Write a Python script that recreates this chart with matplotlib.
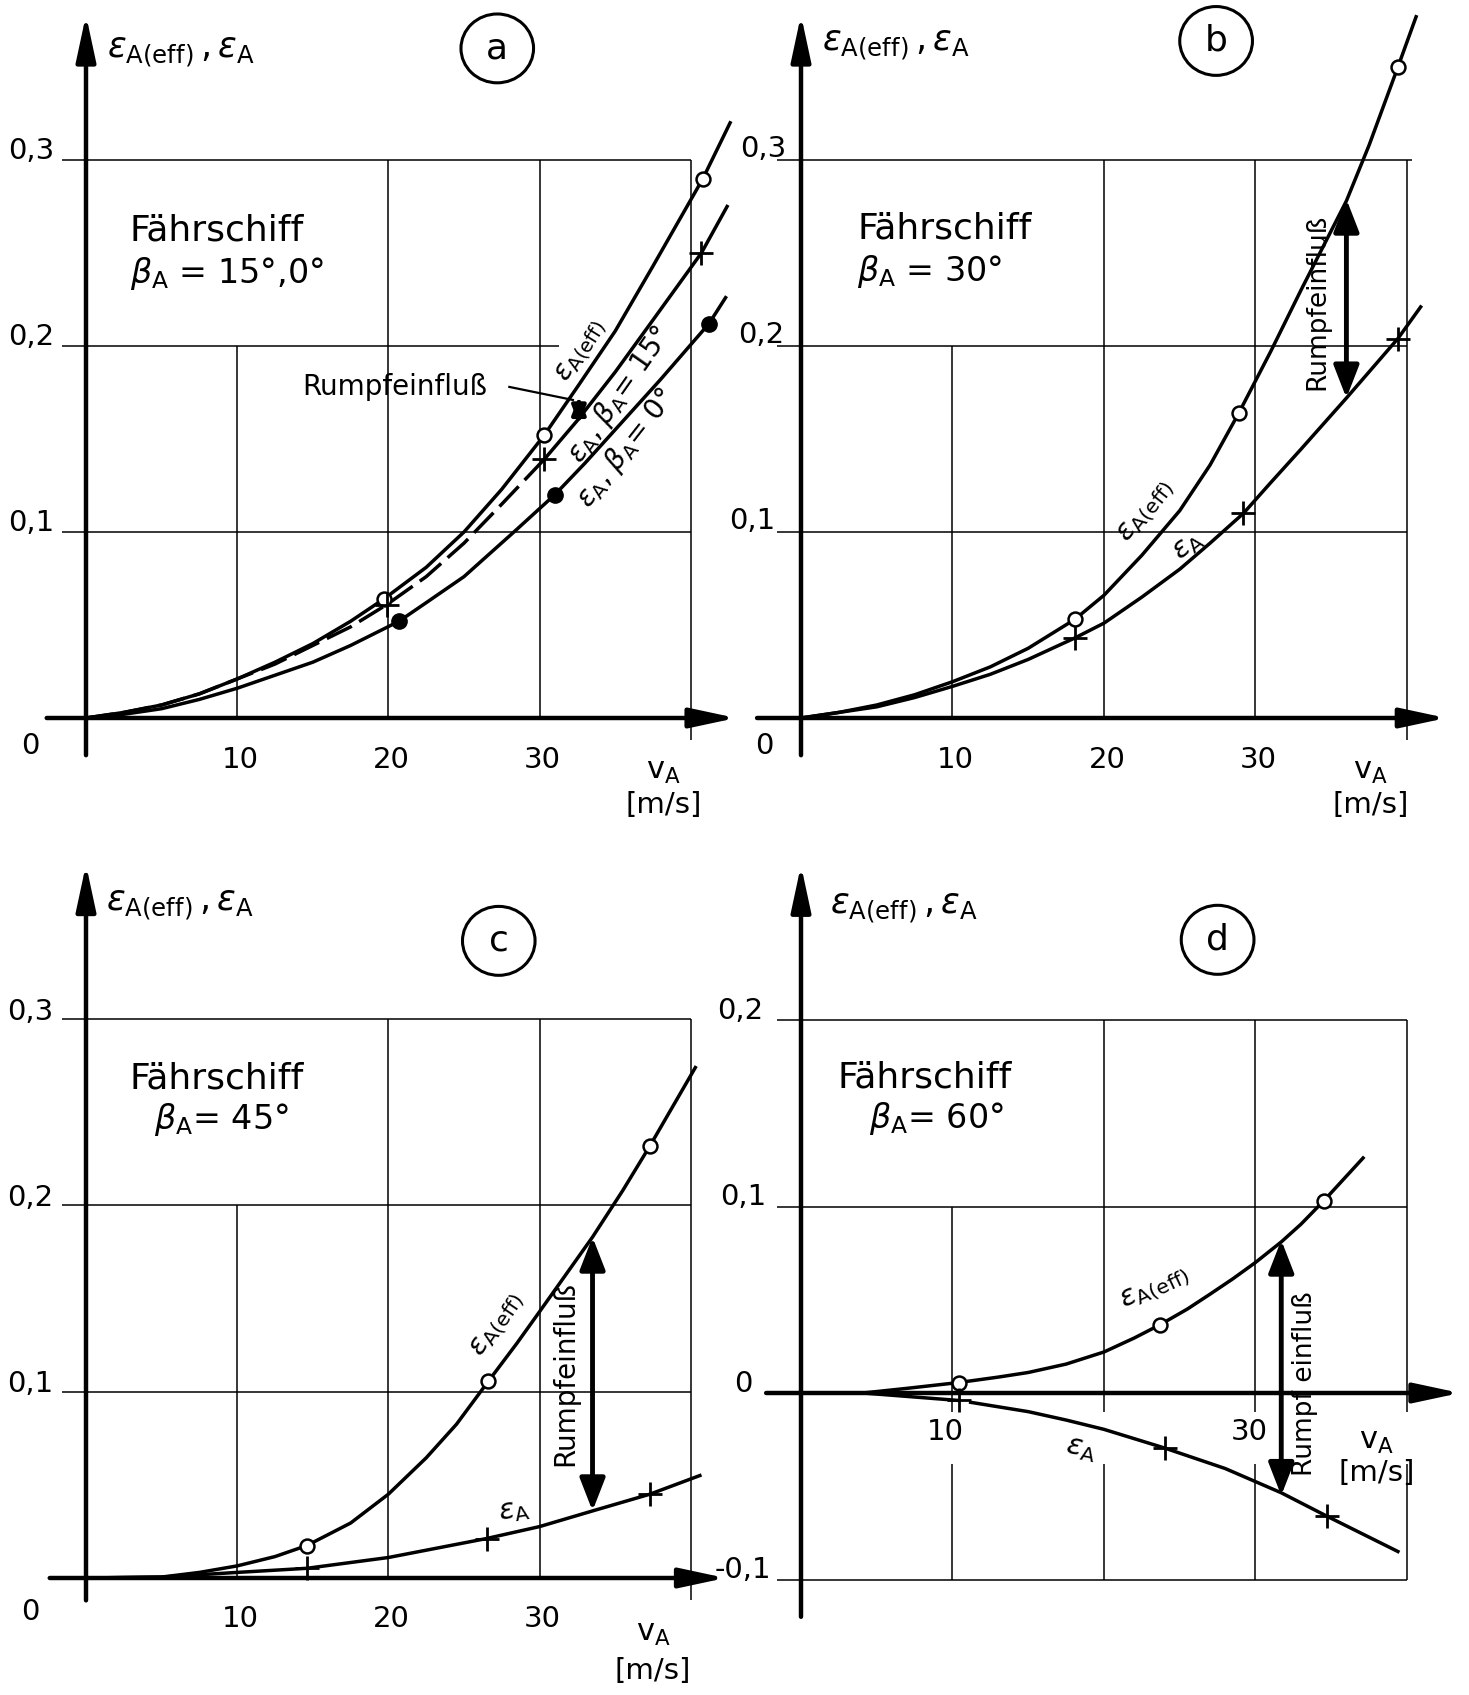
import matplotlib
matplotlib.use("Agg")
import matplotlib.pyplot as plt
from matplotlib.patches import Ellipse

plt.rcParams["font.family"] = ["DejaVu Sans"]
plt.rcParams["mathtext.fontset"] = "dejavusans"

# ---------------- data ----------------
# panel a : beta_A = 15 deg / 0 deg
a_eff_v = [0, 2.5, 5, 7.5, 10, 12.5, 15, 17.5, 19.7, 22.5, 25, 27.5, 30.3, 32.5, 35, 37.5, 40.8, 42.6]
a_eff = [0, 0.003, 0.007, 0.013, 0.021, 0.030, 0.040, 0.052, 0.064, 0.081, 0.100, 0.123,
         0.152, 0.178, 0.208, 0.243, 0.290, 0.320]
a15_v = [0, 2.5, 5, 7.5, 10, 12.5, 15, 17.5, 19.9, 22.5, 25, 27.5, 30.3, 32.5, 35, 37.5, 40.7, 42.4]
a15 = [0, 0.003, 0.007, 0.013, 0.021, 0.029, 0.039, 0.049, 0.061, 0.076, 0.094, 0.115,
       0.139, 0.160, 0.186, 0.214, 0.250, 0.275]
a0_v = [0, 2.5, 5, 7.5, 10, 12.5, 15, 17.5, 20.7, 22.5, 25, 28.3, 31.0, 33, 35, 38, 41.2, 42.3]
a0 = [0, 0.002, 0.005, 0.010, 0.016, 0.023, 0.030, 0.039, 0.052, 0.062, 0.076, 0.100,
      0.120, 0.137, 0.155, 0.182, 0.212, 0.226]
a_eff_mv, a_eff_m = [19.7, 30.3, 40.8], [0.064, 0.152, 0.290]
a15_mv, a15_m = [19.9, 30.3, 40.7], [0.061, 0.139, 0.250]
a0_mv, a0_m = [20.7, 31.0, 41.2], [0.052, 0.120, 0.212]

# panel b : beta_A = 30 deg
b_eff_v = [0, 2.5, 5, 7.5, 10, 12.5, 15, 18.07, 20, 22.5, 25, 27, 28.9, 31, 33, 36, 37.5, 39.4, 40.6]
b_eff = [0, 0.003, 0.007, 0.0125, 0.0195, 0.0275, 0.0375, 0.053, 0.066, 0.0875, 0.1115, 0.136,
         0.164, 0.197, 0.230, 0.278, 0.308, 0.350, 0.377]
b_a_v = [0, 2.5, 5, 7.5, 10, 12.5, 15, 18.07, 20, 22.5, 25, 27, 29.2, 31, 33, 36, 39.4, 40.9]
b_a = [0, 0.003, 0.006, 0.011, 0.017, 0.0235, 0.0315, 0.043, 0.051, 0.065, 0.080, 0.094,
       0.110, 0.1265, 0.1445, 0.172, 0.204, 0.221]
b_eff_mv, b_eff_m = [18.07, 28.9, 39.4], [0.053, 0.164, 0.350]
b_a_mv, b_a_m = [18.07, 29.2, 39.4], [0.043, 0.110, 0.204]

# panel c : beta_A = 45 deg
c_eff_v = [0, 5, 7.5, 10, 12.5, 14.6, 17.5, 20, 22.5, 24.5, 26.6, 28.5, 30, 33.5, 35.5, 37.3, 40.3]
c_eff = [0, 0.0005, 0.003, 0.0065, 0.0115, 0.0174, 0.0295, 0.045, 0.0645, 0.0825, 0.1055,
         0.126, 0.143, 0.183, 0.208, 0.232, 0.274]
c_a_v = [0, 5, 10, 14.6, 20, 26.5, 30, 33.5, 37.3, 40.6]
c_a = [0, 0.0005, 0.003, 0.0052, 0.011, 0.0212, 0.0276, 0.036, 0.045, 0.055]
c_eff_mv, c_eff_m = [14.6, 26.6, 37.3], [0.0174, 0.1055, 0.232]
c_a_mv, c_a_m = [14.6, 26.5, 37.3], [0.0052, 0.0212, 0.045]

# panel d : beta_A = 60 deg
d_eff_v = [4.1, 7, 10.4, 13, 15, 17.5, 20, 22, 23.7, 25.5, 27, 28.5, 30, 31.7, 33, 34.5, 37.1]
d_eff = [0, 0.0025, 0.0056, 0.0085, 0.011, 0.0155, 0.022, 0.0295, 0.0366, 0.045, 0.053,
         0.0612, 0.070, 0.081, 0.0905, 0.103, 0.126]
d_a_v = [4.1, 10.4, 11.2, 15, 17.5, 20, 22, 24.0, 26, 28, 31.7, 34.7, 39.4]
d_a = [0, -0.004, -0.005, -0.010, -0.0145, -0.0195, -0.0245, -0.0295, -0.035, -0.0405,
       -0.0535, -0.066, -0.085]
d_eff_mv, d_eff_m = [10.4, 23.7, 34.5], [0.0056, 0.0366, 0.103]
d_a_mv, d_a_m = [10.4, 24.0, 34.7], [-0.004, -0.0295, -0.066]

xticks = [10, 20, 30]
xlabels = ["10", "20", "30"]
ylabels_pos = ["0,1", "0,2", "0,3"]

# ---------------- layout ----------------
W, H = 1469, 1695
fig = plt.figure(figsize=(W / 100, H / 100), dpi=100)

LW_AX = 3.2
LW_GRID = 1.1
LW_CURVE = 2.5
FS = 21
FS_LAB = 21


def panel(x0, y0, sx, sy, xlim, ylim):
    left = (x0 + xlim[0] * sx) / W
    width = (xlim[1] - xlim[0]) * sx / W
    bottom = 1 - (y0 - ylim[0] * sy) / H
    height = (ylim[1] - ylim[0]) * sy / H
    ax = fig.add_axes([left, bottom, width, height])
    ax.set_xlim(xlim)
    ax.set_ylim(ylim)
    ax.axis("off")
    ax.patch.set_alpha(0)
    return ax


def arrows(ax, xmin, xmax, ymin, ymax):
    style = "-|>,head_length=1.4,head_width=0.3"
    ax.annotate("", xy=(xmax, 0), xytext=(xmin, 0),
                arrowprops=dict(arrowstyle=style, lw=LW_AX, color="k",
                                mutation_scale=20, shrinkA=0, shrinkB=0))
    ax.annotate("", xy=(0, ymax), xytext=(0, ymin),
                arrowprops=dict(arrowstyle=style, lw=LW_AX, color="k",
                                mutation_scale=20, shrinkA=0, shrinkB=0))


def vline(ax, x, y0, y1):
    ax.plot([x, x], [y0, y1], color="k", lw=LW_GRID, solid_capstyle="butt")


def hline(ax, y, x1=40):
    ax.plot([-1.6, x1], [y, y], color="k", lw=LW_GRID, solid_capstyle="butt")


def circled(ax, x, y, letter, w=4.8, h=0.037):
    ax.add_patch(Ellipse((x, y), w, h, fill=False, lw=2.2, ec="k"))
    ax.text(x, y, letter, ha="center", va="center", fontsize=26)


def ylabel(ax, x, y):
    ax.text(x, y, r"$\varepsilon_{\mathrm{A(eff)}}\,,\varepsilon_{\mathrm{A}}$",
            ha="left", va="center", fontsize=25)


def vunit(ax, x, y1, y2):
    ax.text(x, y1, r"$\mathrm{v}_{\mathrm{A}}$", ha="center", va="center", fontsize=FS + 1)
    ax.text(x, y2, "[m/s]", ha="center", va="center", fontsize=FS)


def double_arrow(ax, x, y0, y1, ms=22, lw=3.5):
    ax.annotate("", xy=(x, y1), xytext=(x, y0),
                arrowprops=dict(arrowstyle="<|-|>,head_length=0.9,head_width=0.35",
                                lw=lw, color="k", mutation_scale=ms,
                                shrinkA=0, shrinkB=0))


def curve_label(ax, x, y, s, rot, fs=FS_LAB):
    ax.text(x, y, s, rotation=rot, ha="center", va="center",
            rotation_mode="anchor", fontsize=fs)


curve = dict(color="k", lw=LW_CURVE, solid_joinstyle="round")
open_m = dict(ls="none", marker="o", ms=10, mfc="white", mec="k", mew=1.8)
plus_m = dict(ls="none", marker="+", ms=17, mec="k", mew=2.0)
dot_m = dict(ls="none", marker="o", ms=11, mfc="k", mec="k")
EFF = r"$\varepsilon_{\mathrm{A(eff)}}$"
EA = r"$\varepsilon_{\mathrm{A}}$"

# ---------------- panel a ----------------
ax = panel(86, 718, 15.12, 1860, (-5.5, 45.5), (-0.14, 0.39))
hline(ax, 0.1)
hline(ax, 0.2, 31.3)
hline(ax, 0.3)
vline(ax, 10, 0, 0.2)
vline(ax, 20, 0, 0.3)
vline(ax, 30, 0, 0.3)
vline(ax, 40, -0.012, 0.3)
arrows(ax, -2.6, 43.0, -0.02, 0.378)
ax.plot(a_eff_v, a_eff, **curve)
ax.plot(a15_v[:13], a15[:13], color="k", lw=LW_CURVE, ls=(0, (8, 2.5)))
ax.plot(a15_v[12:], a15[12:], **curve)
ax.plot(a0_v, a0, **curve)
ax.plot(a_eff_mv, a_eff_m, **open_m)
ax.plot(a15_mv, a15_m, **plus_m)
ax.plot(a0_mv, a0_m, **dot_m)
for yv, lab in zip([0.1, 0.2, 0.3], ylabels_pos):
    ax.text(-3.6, yv + 0.005, lab, ha="center", va="center", fontsize=FS)
ax.text(-3.7, -0.015, "0", ha="center", va="center", fontsize=FS)
for xv, lab in zip(xticks, xlabels):
    ax.text(xv + 0.2, -0.0225, lab, ha="center", va="center", fontsize=FS)
vunit(ax, 38.2, -0.029, -0.047)
ylabel(ax, 1.4, 0.358)
circled(ax, 27.2, 0.360, "a")
ax.text(2.9, 0.262, "Fährschiff", ha="left", va="center", fontsize=26)
ax.text(2.9, 0.239, r"$\beta_{\mathrm{A}}$ = 15°,0°", ha="left", va="center", fontsize=24)
ax.text(14.3, 0.178, "Rumpfeinfluß", ha="left", va="center", fontsize=20)
ax.plot([28.0, 32.2], [0.178, 0.171], color="k", lw=1.6)
double_arrow(ax, 32.6, 0.158, 0.173, ms=12, lw=3)
curve_label(ax, 32.8, 0.197, EFF, 58, 20)
curve_label(ax, 35.3, 0.174, EA + r", $\beta_{\mathrm{A}}$= 15°", 55, 20)
curve_label(ax, 35.7, 0.145, EA + r", $\beta_{\mathrm{A}}$= 0°", 52, 20)

# ---------------- panel b ----------------
ax = panel(801, 718, 15.15, 1860, (-5.5, 43.5), (-0.14, 0.39))
hline(ax, 0.1)
hline(ax, 0.2)
hline(ax, 0.3, 40.3)
vline(ax, 10, 0, 0.2)
vline(ax, 20, 0, 0.3)
vline(ax, 30, 0, 0.3)
vline(ax, 40, -0.012, 0.3)
arrows(ax, -2.9, 42.6, -0.02, 0.378)
ax.plot(b_eff_v, b_eff, **curve)
ax.plot(b_a_v, b_a, **curve)
ax.plot(b_eff_mv, b_eff_m, **open_m)
ax.plot(b_a_mv, b_a_m, **plus_m)
for yv, lab, xl in zip([0.1, 0.2, 0.3], ylabels_pos, [-3.2, -2.6, -2.5]):
    ax.text(xl, yv + 0.006, lab, ha="center", va="center", fontsize=FS)
ax.text(-2.4, -0.015, "0", ha="center", va="center", fontsize=FS)
for xv, lab in zip(xticks, xlabels):
    ax.text(xv + 0.2, -0.0225, lab, ha="center", va="center", fontsize=FS)
vunit(ax, 37.6, -0.029, -0.047)
ylabel(ax, 1.4, 0.362)
circled(ax, 27.4, 0.364, "b")
ax.text(3.7, 0.263, "Fährschiff", ha="left", va="center", fontsize=26)
ax.text(3.7, 0.240, r"$\beta_{\mathrm{A}}$ = 30°", ha="left", va="center", fontsize=24)
double_arrow(ax, 36.0, 0.172, 0.279)
ax.text(34.1, 0.224, "Rumpfeinfluß", rotation=90, ha="center", va="center", fontsize=19)
curve_label(ax, 22.8, 0.111, EFF, 52)
curve_label(ax, 25.5, 0.093, EA, 38)

# ---------------- panel c ----------------
ax = panel(86, 1578, 15.12, 1863, (-5.5, 45.5), (-0.06, 0.39))
hline(ax, 0.1)
hline(ax, 0.2)
hline(ax, 0.3)
vline(ax, 10, 0, 0.2)
vline(ax, 20, 0, 0.3)
vline(ax, 30, 0, 0.3)
vline(ax, 40, -0.012, 0.3)
arrows(ax, -2.4, 42.3, -0.012, 0.383)
ax.plot(c_eff_v, c_eff, **curve)
ax.plot(c_a_v, c_a, **curve)
ax.plot(c_eff_mv, c_eff_m, **open_m)
ax.plot(c_a_mv, c_a_m, **plus_m)
for yv, lab in zip([0.1, 0.2, 0.3], ylabels_pos):
    ax.text(-3.7, yv + 0.004, lab, ha="center", va="center", fontsize=FS)
ax.text(-3.7, -0.018, "0", ha="center", va="center", fontsize=FS)
for xv, lab in zip(xticks, xlabels):
    ax.text(xv + 0.2, -0.022, lab, ha="center", va="center", fontsize=FS)
vunit(ax, 37.5, -0.030, -0.050)
ylabel(ax, 1.3, 0.361)
circled(ax, 27.3, 0.342, "c")
ax.text(2.9, 0.268, "Fährschiff", ha="left", va="center", fontsize=26)
ax.text(4.5, 0.246, r"$\beta_{\mathrm{A}}$= 45°", ha="left", va="center", fontsize=24)
double_arrow(ax, 33.5, 0.036, 0.183)
ax.text(31.7, 0.110, "Rumpfeinfluß", rotation=90, ha="center", va="center", fontsize=20)
curve_label(ax, 27.2, 0.136, EFF, 56)
curve_label(ax, 28.3, 0.036, EA, 10)

# ---------------- panel d ----------------
ax = panel(801, 1393, 15.15, 1865, (-5.5, 43.5), (-0.135, 0.29))
hline(ax, 0.2)
hline(ax, 0.1)
hline(ax, -0.1)
vline(ax, 10, -0.01, 0.1)
for xv in [20, 30, 40]:
    vline(ax, xv, -0.01, 0.2)
for xv in [10, 20, 30, 40]:
    vline(ax, xv, -0.1, -0.038)
arrows(ax, -2.3, 43.5, -0.12, 0.283)
ax.plot(d_eff_v, d_eff, **curve)
ax.plot(d_a_v[:2], d_a[:2], **curve)
ax.plot(d_a_v[2:], d_a[2:], **curve)
ax.plot(d_eff_mv, d_eff_m, **open_m)
ax.plot(d_a_mv, d_a_m, **plus_m)
for yv, lab, xl in zip([0.2, 0.1, 0, -0.1], ["0,2", "0,1", "0", "-0,1"], [-4.0, -3.8, -3.8, -3.8]):
    ax.text(xl, yv + 0.005, lab, ha="center", va="center", fontsize=FS)
ax.text(9.5, -0.021, "10", ha="center", va="center", fontsize=FS)
ax.text(29.6, -0.021, "30", ha="center", va="center", fontsize=FS)
vunit(ax, 38.0, -0.026, -0.043)
ylabel(ax, 1.9, 0.26)
circled(ax, 27.5, 0.243, "d")
ax.text(2.4, 0.169, "Fährschiff", ha="left", va="center", fontsize=26)
ax.text(4.5, 0.147, r"$\beta_{\mathrm{A}}$= 60°", ha="left", va="center", fontsize=24)
double_arrow(ax, 31.7, -0.055, 0.082)
ax.text(33.3, 0.005, "Rumpf einfluß", rotation=90, ha="center", va="center", fontsize=19)
curve_label(ax, 23.4, 0.056, EFF, 25)
curve_label(ax, 18.5, -0.030, EA, -12)

fig.savefig("out.png", dpi=100, facecolor="white")
